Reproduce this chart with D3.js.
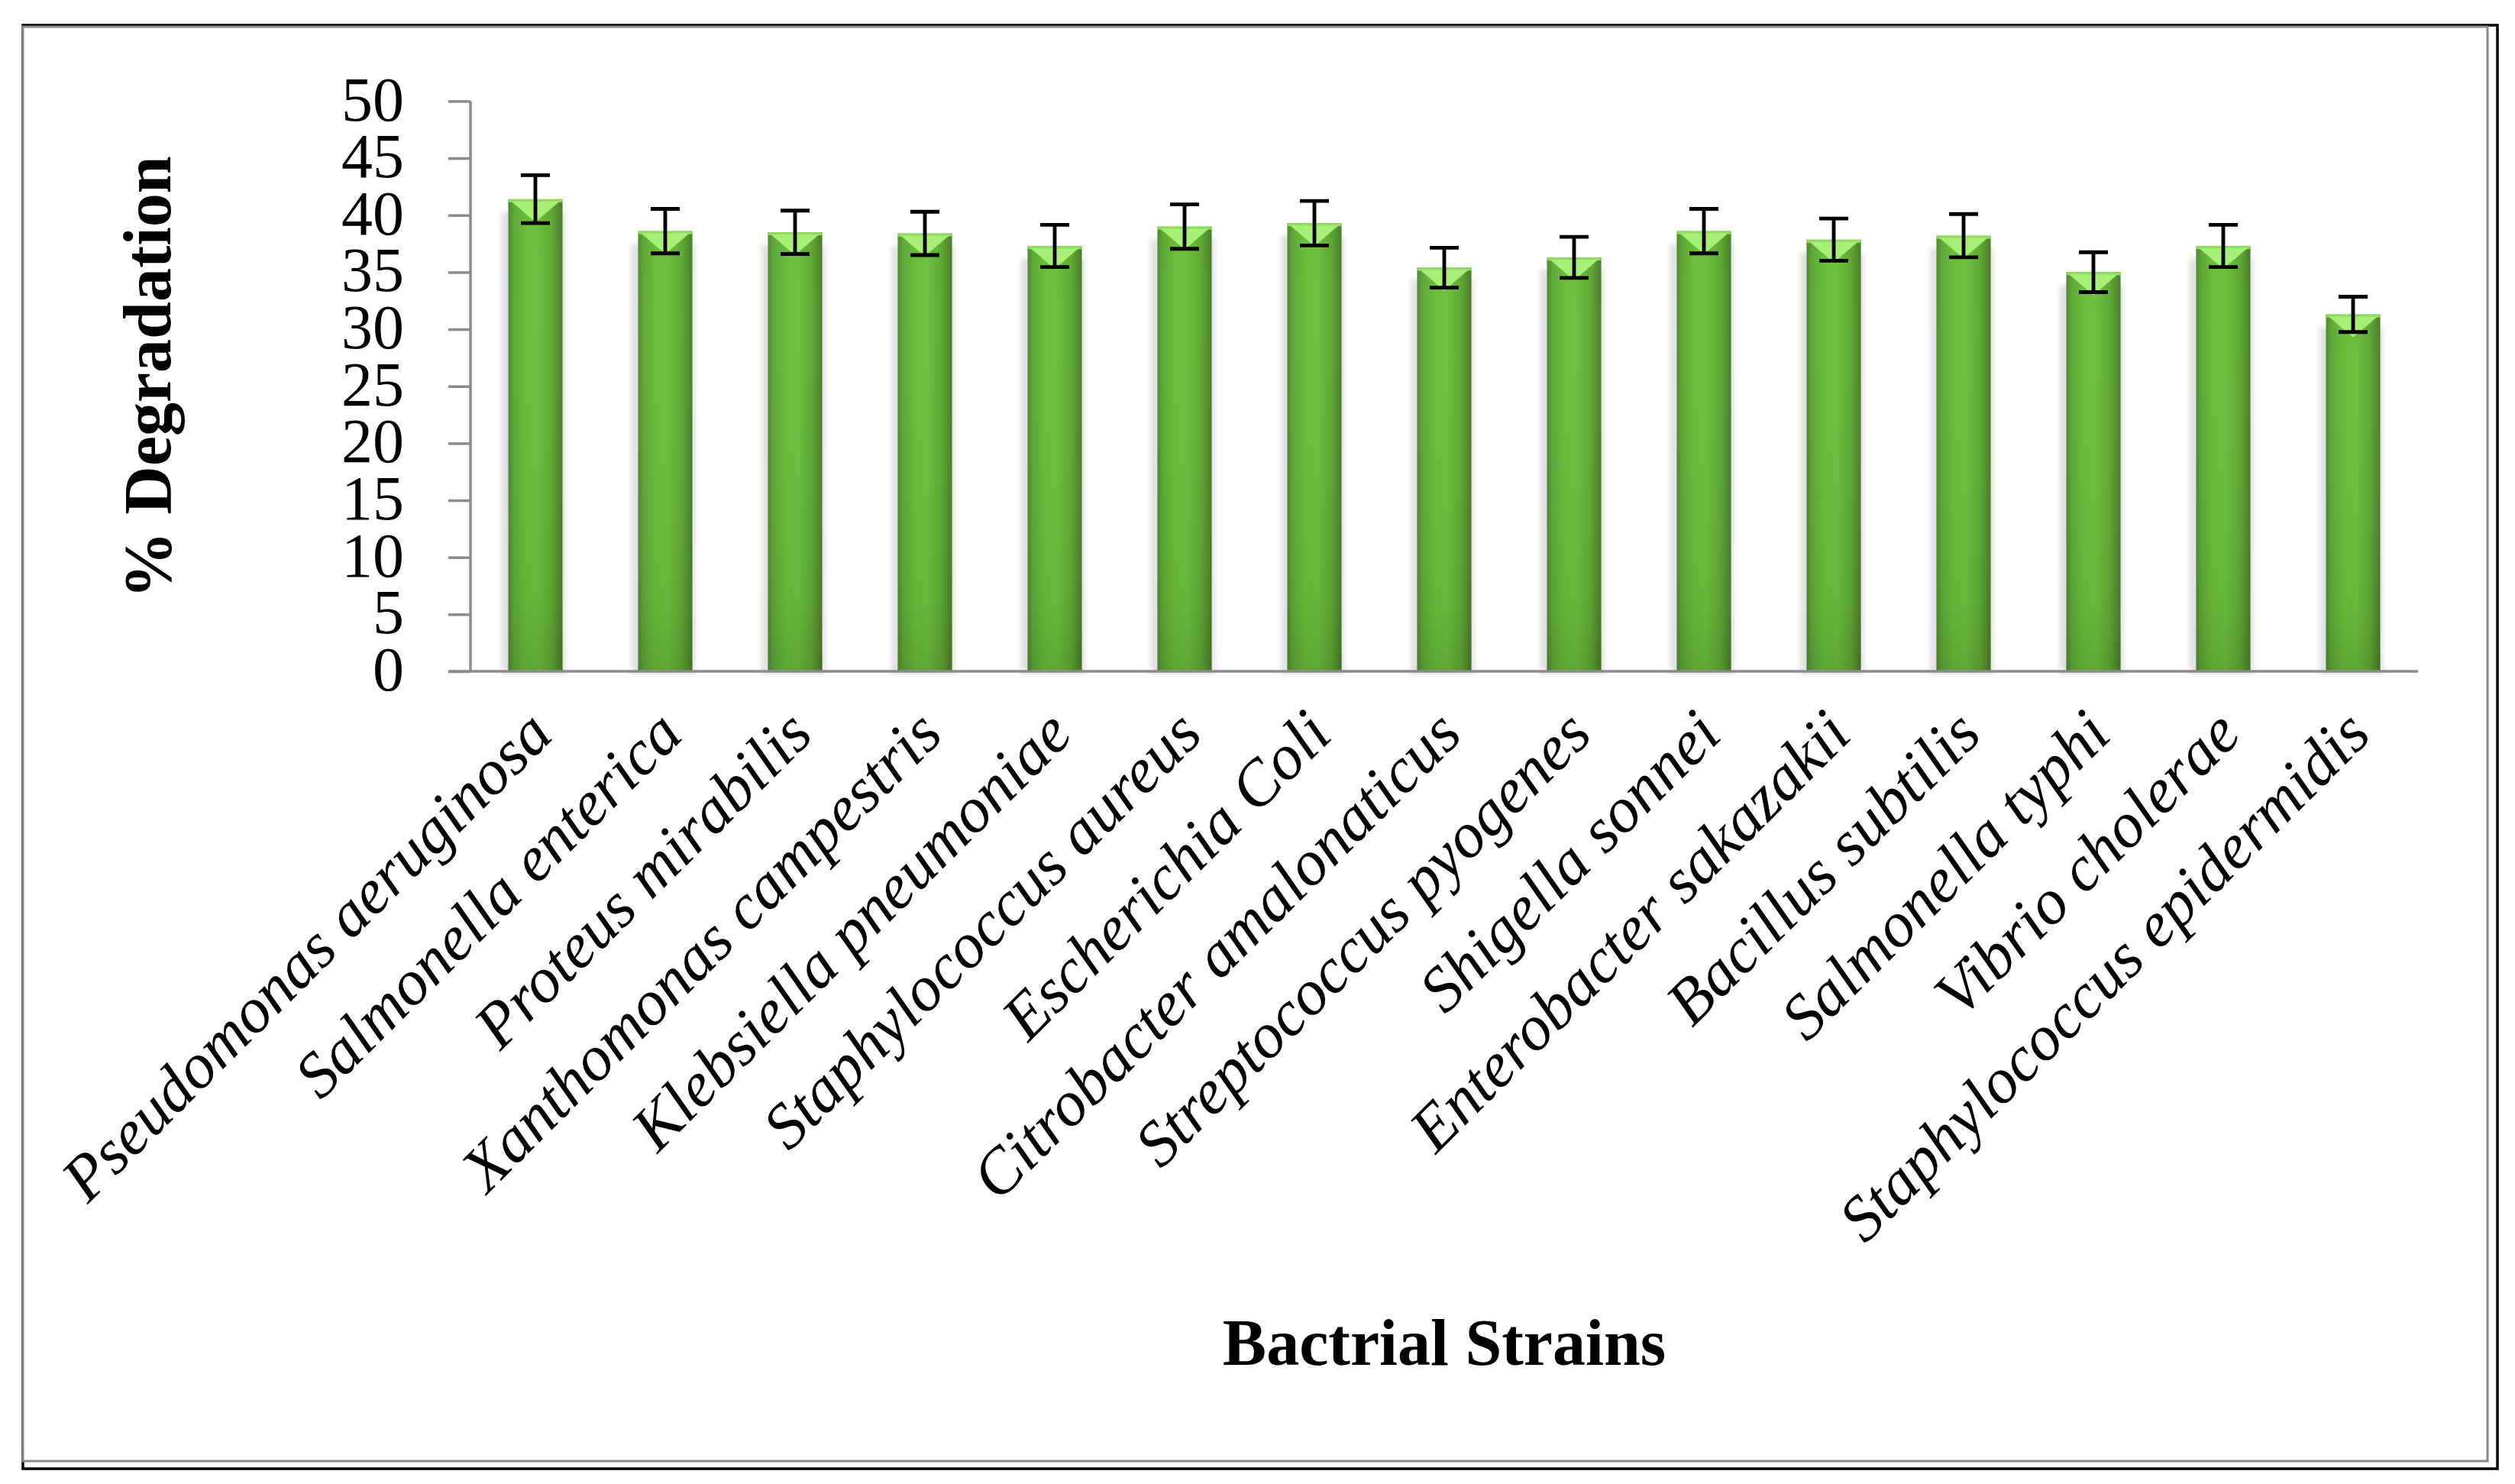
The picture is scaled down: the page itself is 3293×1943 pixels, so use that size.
<!DOCTYPE html>
<html>
<head>
<meta charset="utf-8">
<script src="https://cdn.jsdelivr.net/npm/d3@7"></script>
<style>
  html, body { margin: 0; padding: 0; background: #ffffff; }
  svg { display: block; }
</style>
</head>
<body>
<script>
// ---- data ----
const strains = [
  "Pseudomonas aeruginosa", "Salmonella enterica", "Proteus mirabilis",
  "Xanthomonas campestris", "Klebsiella pneumoniae", "Staphylococcus aureus",
  "Escherichia Coli", "Citrobacter amalonaticus", "Streptococcus pyogenes",
  "Shigella sonnei", "Enterobacter sakazakii", "Bacillus subtilis",
  "Salmonella typhi", "Vibrio cholerae", "Staphylococcus epidermidis"
];
const degradation = [41.4, 38.6, 38.5, 38.4, 37.3, 39.0, 39.3, 35.4, 36.3, 38.6, 37.85, 38.2, 35.0, 37.3, 31.3];
const errors      = [2.1, 1.95, 1.9, 1.9, 1.85, 1.95, 1.95, 1.75, 1.8, 1.95, 1.85, 1.9, 1.75, 1.85, 1.55];
const yTicks = [0, 5, 10, 15, 20, 25, 30, 35, 40, 45, 50];
const yTitle = "% Degradation";
const xTitle = "Bactrial Strains";

// ---- layout ----
const W = 3293, H = 1943;
const plot = { left: 616, right: 3166, top: 132.4, bottom: 879 };
const FONT = "'Liberation Serif', 'Times New Roman', serif";

const svg = d3.select("body").append("svg")
  .attr("width", W).attr("height", H)
  .attr("viewBox", `0 0 ${W} ${H}`);

const defs = svg.append("defs");
const bodyGrad = defs.append("linearGradient").attr("id", "barBody")
  .attr("x1", "0%").attr("x2", "100%").attr("y1", "0%").attr("y2", "0%");
[["0%", "#4f8a30"], ["10%", "#5ea838"], ["30%", "#69bd3a"], ["55%", "#6dc03e"],
 ["80%", "#5faa35"], ["92%", "#548f30"], ["100%", "#4a7a2e"]]
  .forEach(([o, c]) => bodyGrad.append("stop").attr("offset", o).attr("stop-color", c));
const vGrad = defs.append("linearGradient").attr("id", "barShade")
  .attr("x1", "0%").attr("x2", "0%").attr("y1", "0%").attr("y2", "100%");
[["0%", "#ffffff", 0.0], ["85%", "#000000", 0.05], ["100%", "#000000", 0.12]]
  .forEach(([o, c, a]) => vGrad.append("stop").attr("offset", o).attr("stop-color", c).attr("stop-opacity", a));
const blur = defs.append("filter").attr("id", "shadowBlur")
  .attr("x", "-20%").attr("y", "-5%").attr("width", "140%").attr("height", "110%");
blur.append("feGaussianBlur").attr("stdDeviation", 3);

// ---- frame ----
svg.append("rect").attr("x", 30).attr("y", 33).attr("width", 3270 - 30).attr("height", 1923 - 33)
  .attr("fill", "#ffffff").attr("stroke", "#000000").attr("stroke-width", 3.5);
svg.append("rect").attr("x", 30).attr("y", 35).attr("width", 3257 - 30).attr("height", 1913 - 35)
  .attr("fill", "#ffffff").attr("stroke", "#8a8a8a").attr("stroke-width", 3);

// ---- scales ----
const x = d3.scaleBand().domain(strains)
  .range([plot.left, plot.right]).paddingInner(0.582).paddingOuter(0.291);
const y = d3.scaleLinear().domain([0, 50]).range([plot.bottom, plot.top]);

const data = strains.map((s, i) => ({ s, v: degradation[i], e: errors[i] }));

// ---- bar shadows ----
svg.append("g").selectAll("rect").data(data).join("rect")
  .attr("x", d => x(d.s) - 9)
  .attr("y", d => y(d.v) + 16)
  .attr("width", x.bandwidth() + 13)
  .attr("height", d => plot.bottom - y(d.v) - 12)
  .attr("fill", "#e2e2e2")
  .attr("filter", "url(#shadowBlur)");

// ---- axes ----
const yAxis = d3.axisLeft(y).tickValues(yTicks).tickSize(29).tickPadding(58);
const gy = svg.append("g").attr("transform", `translate(${plot.left},0)`).call(yAxis);
gy.select(".domain").attr("stroke", "#8a8a8a").attr("stroke-width", 3.5)
  .attr("d", `M0,${plot.top}V${plot.bottom}`);
gy.selectAll(".tick line").attr("stroke", "#8a8a8a").attr("stroke-width", 3.5);
gy.selectAll(".tick text")
  .attr("font-family", FONT).attr("font-size", 82).attr("fill", "#000")
  .attr("dy", "0.30em");

const xAxis = d3.axisBottom(x).tickSize(0).tickFormat(() => "");
const gx = svg.append("g").attr("transform", `translate(0,${plot.bottom})`).call(xAxis);
gx.select(".domain").attr("stroke", "#8a8a8a").attr("stroke-width", 3.5)
  .attr("d", `M${plot.left - 29},0H${plot.right}`);

// ---- bars ----
const bars = svg.append("g");
bars.selectAll("rect.body").data(data).join("rect").attr("class", "body")
  .attr("x", d => x(d.s)).attr("y", d => y(d.v))
  .attr("width", x.bandwidth()).attr("height", d => y(0) - y(d.v) - 1.5)
  .attr("fill", "url(#barBody)");
bars.selectAll("rect.shade").data(data).join("rect").attr("class", "shade")
  .attr("x", d => x(d.s)).attr("y", d => y(d.v))
  .attr("width", x.bandwidth()).attr("height", d => y(0) - y(d.v) - 1.5)
  .attr("fill", "url(#barShade)");
bars.selectAll("rect.top").data(data).join("rect").attr("class", "top")
  .attr("x", d => x(d.s)).attr("y", d => y(d.v))
  .attr("width", x.bandwidth()).attr("height", 4)
  .attr("fill", "#8fdc5e");
bars.selectAll("path.bevel").data(data).join("path").attr("class", "bevel")
  .attr("d", d => {
    const x0 = x(d.s), w = x.bandwidth(), t = y(d.v) + 3;
    return `M${x0 + 4},${t}L${x0 + w - 4},${t}L${x0 + w / 2},${t + 27}Z`;
  })
  .attr("fill", "#a6f078");

// ---- error bars ----
const eb = svg.append("g").attr("stroke", "#000").attr("stroke-width", 4.8).attr("fill", "none");
const cx = d => x(d.s) + x.bandwidth() / 2;
eb.selectAll("line.stem").data(data).join("line").attr("class", "stem")
  .attr("x1", cx).attr("x2", cx)
  .attr("y1", d => y(d.v + d.e)).attr("y2", d => y(d.v - d.e));
eb.selectAll("line.capT").data(data).join("line").attr("class", "capT")
  .attr("x1", d => cx(d) - 19).attr("x2", d => cx(d) + 19)
  .attr("y1", d => y(d.v + d.e)).attr("y2", d => y(d.v + d.e));
eb.selectAll("line.capB").data(data).join("line").attr("class", "capB")
  .attr("x1", d => cx(d) - 19).attr("x2", d => cx(d) + 19)
  .attr("y1", d => y(d.v - d.e)).attr("y2", d => y(d.v - d.e));

// ---- category labels ----
svg.append("g").selectAll("text").data(data).join("text")
  .attr("transform", d => `translate(${cx(d) + 26},${plot.bottom + 86}) rotate(-45)`)
  .attr("text-anchor", "end")
  .attr("font-family", FONT).attr("font-style", "italic").attr("font-size", 84)
  .attr("fill", "#000")
  .text(d => d.s);

// ---- axis titles ----
svg.append("text")
  .attr("transform", `translate(223,494) rotate(-90)`)
  .attr("text-anchor", "middle")
  .attr("font-family", FONT).attr("font-weight", "bold").attr("font-size", 88)
  .attr("fill", "#000")
  .text(yTitle);
svg.append("text")
  .attr("x", (plot.left + plot.right) / 2).attr("y", 1787)
  .attr("text-anchor", "middle")
  .attr("font-family", FONT).attr("font-weight", "bold").attr("font-size", 86)
  .attr("fill", "#000")
  .text(xTitle);
</script>
</body>
</html>
